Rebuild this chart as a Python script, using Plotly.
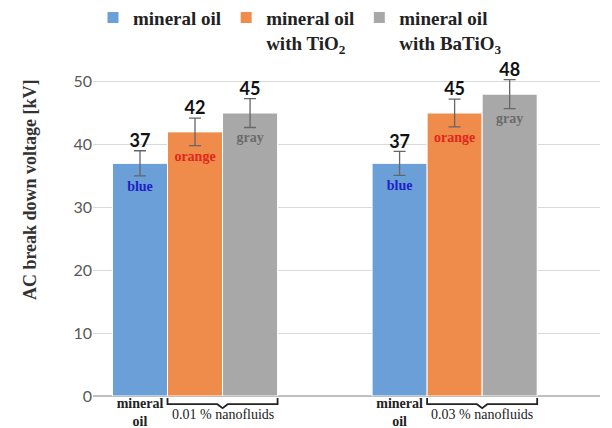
import plotly.graph_objects as go

groups = [0, 1]
group_names = ["0.01 % nanofluids", "0.03 % nanofluids"]
series = ["mineral oil", "mineral oil<br>with TiO<sub>2</sub>", "mineral oil<br>with BaTiO<sub>3</sub>"]
values = [[37, 37], [42, 45], [45, 48]]
errors = [[2.0, 1.9], [2.2, 2.2], [2.3, 2.3]]
inner_labels = ["blue", "orange", "gray"]
colors = ["#6a9fd8", "#ef8b4b", "#a8a8a8"]
inner_colors = ["#1f1fc8", "#e3261c", "#6b6b6b"]
y_ticks = [0, 10, 20, 30, 40, 50]

w = 0.212
offsets = [-1.5 * w, -0.5 * w, 0.5 * w]

fig = go.Figure()
for i in range(3):
    fig.add_trace(go.Bar(
        x=groups, y=values[i], name=f"<b>{series[i]}</b>", width=w, offset=offsets[i],
        marker=dict(color=colors[i], line=dict(color="white", width=1)),
        error_y=dict(type="data", array=errors[i], color="#666666", thickness=1.3, width=6),
    ))

for i in range(3):
    xc = [g + offsets[i] + w / 2 for g in groups]
    top = [v + e - 0.1 for v, e in zip(values[i], errors[i])]
    low = [v - e - 1.8 for v, e in zip(values[i], errors[i])]
    fig.add_trace(go.Scatter(
        x=xc, y=top, mode="text", text=[f"<b>{v}</b>" for v in values[i]],
        textposition="top center", showlegend=False, cliponaxis=False,
        textfont=dict(family="Lato", size=18, color="#111111"),
    ))
    fig.add_trace(go.Scatter(
        x=xc, y=low, mode="text", text=[f"<b>{inner_labels[i]}</b>"] * 2,
        textposition="middle center", showlegend=False, cliponaxis=False,
        textfont=dict(family="Liberation Serif", size=14, color=inner_colors[i]),
    ))

# brackets + nanofluid labels under the axis
for g, name in zip(groups, group_names):
    x0 = g + offsets[1]
    x1 = g + offsets[2] + w
    xm = (x0 + x1) / 2
    fig.add_shape(
        type="path", xref="x", yref="paper",
        path=(f"M {x0},-0.006 L {x0},-0.025 L {xm - 0.02},-0.025 L {xm},-0.037 "
              f"L {xm + 0.02},-0.025 L {x1},-0.025 L {x1},-0.006"),
        line=dict(color="#222222", width=1.8),
    )
    fig.add_annotation(
        x=xm, y=-0.058, xref="x", yref="paper", text=name, showarrow=False,
        font=dict(family="Liberation Serif", size=14, color="#222222"), yanchor="middle",
    )

# y-axis title (sits above the plot's centre, as in the original)
fig.add_annotation(
    x=-0.124, y=0.63, xref="paper", yref="paper", text="<b>AC break down voltage [kV]</b>",
    textangle=-90, showarrow=False, xanchor="center", yanchor="middle",
    font=dict(family="Liberation Serif", size=18, color="#333333"),
)

fig.update_xaxes(
    range=[-0.393, 1.56], tickvals=[g + offsets[0] + w / 2 for g in groups],
    ticktext=["<b>mineral<br>oil</b>"] * 2, showgrid=False, zeroline=False,
    tickfont=dict(family="Liberation Serif", size=14, color="#222222"),
    showline=False, ticks="", automargin=False, ticklabelstandoff=-3,
)
fig.update_yaxes(
    range=[0, 52], tickvals=y_ticks, gridcolor="#d9d9d9", gridwidth=1,
    zeroline=True, zerolinecolor="#bfbfbf", zerolinewidth=1.5, automargin=False,
    tickfont=dict(family="Lato", size=16, color="#595959"),
)
fig.update_layout(
    width=612, height=428, plot_bgcolor="white", paper_bgcolor="white",
    margin=dict(l=93, r=12, t=69, b=32, autoexpand=False),
    barmode="overlay",
    legend=dict(orientation="h", x=0.0, xanchor="left", y=1.215, yanchor="top",
                valign="top", traceorder="normal", bgcolor="rgba(0,0,0,0)",
                font=dict(family="Liberation Serif", size=19, color="#222222")),
)
fig.write_html("out.html", config={"displayModeBar": False},
               post_script="document.body.style.margin='0';")
